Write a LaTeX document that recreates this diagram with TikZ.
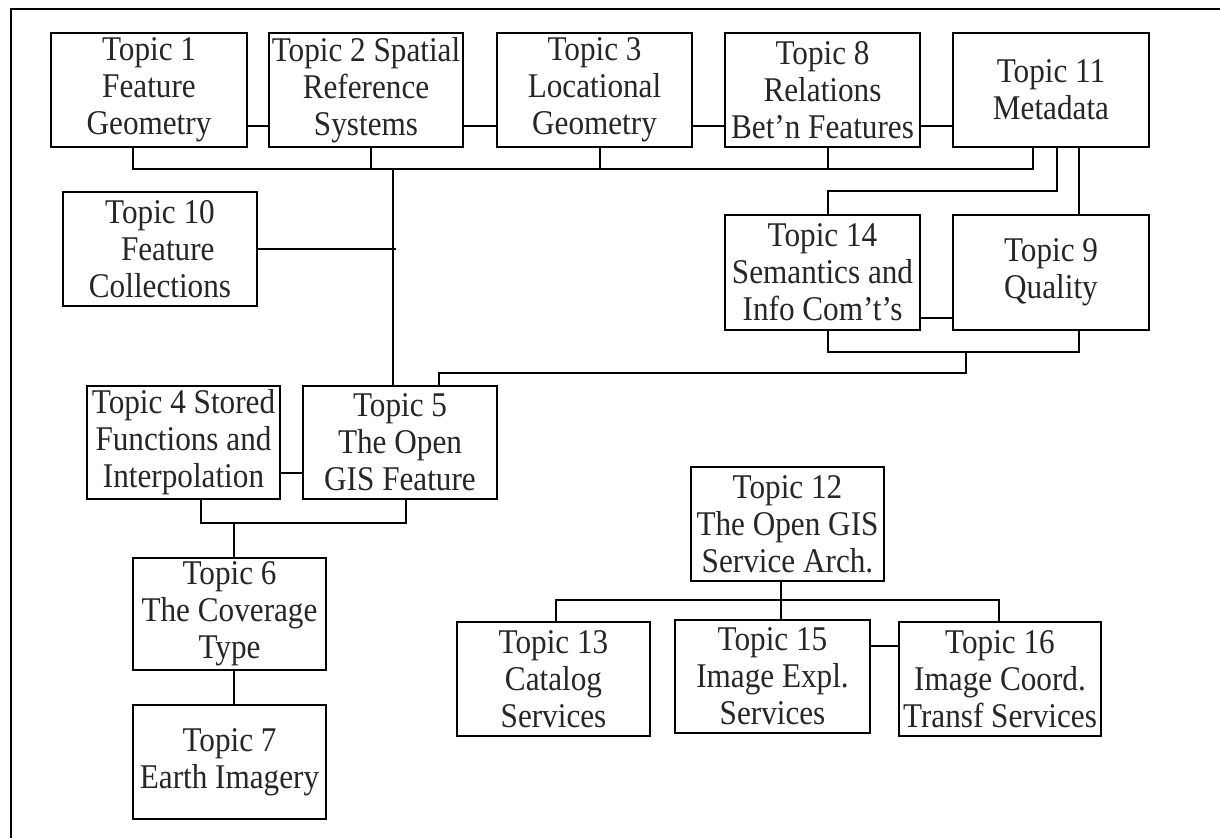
\documentclass[tikz,border=0pt]{standalone}
\usepackage{fontspec}
\setmainfont[FakeStretch=0.9]{Liberation Serif}
\begin{document}
\begin{tikzpicture}[x=0.75pt,y=-0.75pt,
  topic/.style n args={2}{draw=black, line width=1pt, minimum width=#1*0.75pt,
    minimum height=#2*0.75pt, inner sep=0pt, outer sep=0pt, align=center,
    text=black!85, font=\fontsize{26pt}{27.75pt}\selectfont},
  link/.style={draw=black, line width=0.9pt},
  frame/.style={draw=black, line width=1.6pt}]
\useasboundingbox (0,0) rectangle (1220,838);
\fill[white] (0,0) rectangle (1220,838);
\draw[frame] (11,838) -- (11,9) -- (1220,9);

% top row
\node[topic={196}{114}] (t1)  at (149,90)   {Topic 1\\Feature\\Geometry};
\node[topic={194}{114}] (t2)  at (366,90)   {Topic 2 Spatial\\Reference\\Systems};
\node[topic={195}{114}] (t3)  at (594.5,90) {Topic 3\\Locational\\Geometry};
\node[topic={195}{114}] (t8)  at (822.5,90) {Topic 8\\Relations\\Bet’n Features};
\node[topic={196}{114}] (t11) at (1051,90)  {Topic 11\\Metadata};
% middle
\node[topic={194}{114}] (t10) at (160,249)  {Topic 10\\\ \ Feature\\Collections};
\node[topic={195}{115}] (t14) at (822.5,272.5) {Topic 14\\Semantics and\\Info Com’t’s};
\node[topic={196}{115}] (t9)  at (1051,272.5) {Topic 9\\Quality};
\node[topic={193}{113}] (t4)  at (183.5,442.5) {Topic 4 Stored\\Functions and\\Interpolation};
\node[topic={194}{113}] (t5)  at (400,442.5) {Topic 5\\The Open\\GIS Feature};
\node[topic={193}{112}] (t6)  at (229.5,614) {Topic 6\\The Coverage\\Type};
\node[topic={193}{114}] (t7)  at (229.5,762) {Topic 7\\Earth Imagery};
% services
\node[topic={193}{114}] (t12) at (787.5,524) {Topic 12\\The Open GIS\\Service Arch.};
\node[topic={193}{114}] (t13) at (553.5,679) {Topic 13\\Catalog\\Services};
\node[topic={195}{113}] (t15) at (772.5,676.5) {Topic 15\\Image Expl.\\Services};
\node[topic={202}{114}] (t16) at (1000,679) {Topic 16\\Image Coord.\\Transf Services};

% horizontal neighbour links
\draw[link] (t1.east |- 0,126) -- (t2.west |- 0,126);
\draw[link] (t2.east |- 0,126) -- (t3.west |- 0,126);
\draw[link] (t3.east |- 0,126) -- (t8.west |- 0,126);
\draw[link] (t8.east |- 0,126) -- (t11.west |- 0,126);

% top bus
\draw[link] (t1.south -| 133,0) -- (133,169) -- (1033,169) -- (t11.south -| 1033,0);
\draw[link] (t2.south -| 371,0) -- (371,169);
\draw[link] (t3.south -| 600,0) -- (600,169);
\draw[link] (t8.south -| 828,0) -- (828,169);
\coordinate (trunk) at (393,169);
\coordinate (j10) at (396,249);
\draw[link] (trunk) -- (t5.north -| trunk);
\draw[link] (t10.east) -- (j10);

% metadata to semantics and quality
\draw[link] (t11.south -| 1057,0) |- (828,191) -- (t14.north -| 828,0);
\draw[link] (t11.south -| 1079,0) -- (t9.north -| 1079,0);
\draw[link] (t14.east |- 0,318) -- (t9.west |- 0,318);
\draw[link] (t14.south -| 828,0) -- (828,352) -- (1079,352) -- (t9.south -| 1079,0);
\draw[link] (966,352) |- (439,373) -- (t5.north -| 439,0);

% stored functions / feature to coverage
\draw[link] (t4.east |- 0,473) -- (t5.west |- 0,473);
\draw[link] (t4.south -| 201,0) -- (201,523) -- (406,523) -- (t5.south -| 406,0);
\draw[link] (234,523) -- (t6.north -| 234,0);
\draw[link] (t6.south -| 234,0) -- (t7.north -| 234,0);

% services
\draw[link] (t12.south -| 781,0) -- (t15.north -| 781,0);
\draw[link] (t13.north -| 556,0) -- (556,600) -- (999,600) -- (t16.north -| 999,0);
\draw[link] (t15.east |- 0,646) -- (t16.west |- 0,646);
\end{tikzpicture}
\end{document}
